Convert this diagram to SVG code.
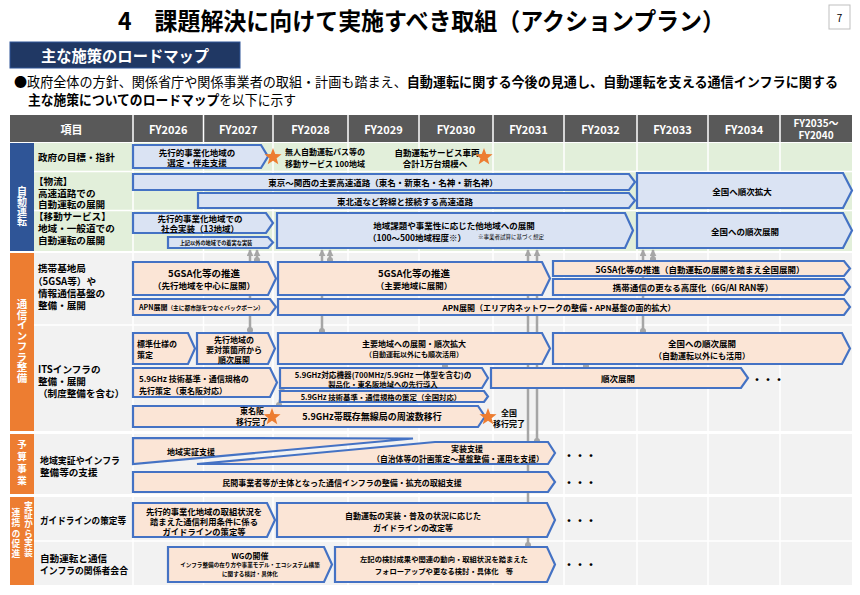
<svg xmlns="http://www.w3.org/2000/svg" width="860" height="595" viewBox="0 0 860 595">
<style>
text{font-family:"Noto Sans CJK JP","Noto Sans",sans-serif;fill:#000}
.b{font-weight:bold}
.ab{fill:#dae3f3;stroke:#4472c4;stroke-width:2.2}
.ap{fill:#fbe5d6;stroke:#4472c4;stroke-width:2.2}
.c{font-size:8.5px;font-weight:bold;text-anchor:middle;dominant-baseline:central}
.s{font-size:8px;font-weight:bold;dominant-baseline:central}
.l{font-size:9.6px;font-weight:bold;dominant-baseline:central}
.hd{fill:#fff;font-size:11px;font-weight:bold;text-anchor:middle;dominant-baseline:central}
.vt{writing-mode:vertical-rl;fill:#fff;font-weight:bold;font-size:10px;text-anchor:middle}
.cn{stroke:#a6a6a6;stroke-width:2.5;fill:none}
.sep{stroke:#fff;stroke-width:1.5}
.dots{font-size:11px;font-weight:bold;text-anchor:middle;dominant-baseline:central}
.star{fill:#ed7d31}
</style>
<defs>
<marker id="ah" viewBox="0 0 10 10" refX="9" refY="5" markerUnits="userSpaceOnUse" markerWidth="7" markerHeight="7" orient="auto-start-reverse"><path d="M0,0 L10,5 L0,10 z" fill="#a6a6a6"/></marker>
<marker id="dt" viewBox="-4 -4 8 8" refX="0" refY="0" markerUnits="userSpaceOnUse" markerWidth="7" markerHeight="7"><circle r="3.5" fill="#a6a6a6"/></marker>
<polygon id="star" points="0,-9 2.23,-3.07 8.56,-2.78 3.61,1.17 5.29,7.28 0,3.8 -5.29,7.28 -3.61,1.17 -8.56,-2.78 -2.23,-3.07"/>
</defs>

<!-- title area -->
<text x="118" y="30" font-size="24" class="b" textLength="607" lengthAdjust="spacingAndGlyphs">4　課題解決に向けて実施すべき取組（アクションプラン）</text>
<rect x="829" y="5" width="21" height="24" fill="#fff" stroke="#bfbfbf"/>
<text x="839.5" y="17" font-size="10" text-anchor="middle" dominant-baseline="central">7</text>
<rect x="10" y="42" width="230" height="26" fill="#203864" stroke="#2f5597"/>
<text x="125" y="55" font-size="16" class="b" style="fill:#fff" text-anchor="middle" dominant-baseline="central" textLength="168" lengthAdjust="spacingAndGlyphs">主な施策のロードマップ</text>
<text x="14" y="87" font-size="13.3" textLength="824" lengthAdjust="spacingAndGlyphs">●政府全体の方針、関係省庁や関係事業者の取組・計画も踏まえ、<tspan class="b">自動運転に関する今後の見通し、自動運転を支える通信インフラに関する</tspan></text>
<text x="28" y="105" font-size="13.3" textLength="268" lengthAdjust="spacingAndGlyphs"><tspan class="b">主な施策についてのロードマップ</tspan>を以下に示す</text>

<!-- table background -->
<rect x="10" y="115" width="842" height="27" fill="#595959"/>
<rect x="34" y="143" width="818" height="108" fill="#e2efda"/>
<rect x="10" y="143" width="24" height="108" fill="#2f5597"/>
<rect x="34" y="253" width="818" height="178" fill="#f2f2f2"/>
<rect x="10" y="253" width="24" height="178" fill="#ed7d31"/>
<rect x="34" y="434" width="818" height="60" fill="#f2f2f2"/>
<rect x="10" y="434" width="24" height="60" fill="#ed7d31"/>
<rect x="34" y="497" width="818" height="88" fill="#f2f2f2"/>
<rect x="10" y="497" width="24" height="88" fill="#ed7d31"/>
<g class="sep">
<line x1="133" y1="115" x2="133" y2="585"/><line x1="203.5" y1="115" x2="203.5" y2="585"/>
<line x1="273" y1="115" x2="273" y2="585"/><line x1="348" y1="115" x2="348" y2="585"/>
<line x1="419" y1="115" x2="419" y2="585"/><line x1="493" y1="115" x2="493" y2="585"/>
<line x1="564" y1="115" x2="564" y2="585"/><line x1="637" y1="115" x2="637" y2="585"/>
<line x1="708" y1="115" x2="708" y2="585"/><line x1="780" y1="115" x2="780" y2="585"/>
<line x1="34" y1="171.5" x2="852" y2="171.5"/><line x1="34" y1="210.5" x2="852" y2="210.5"/>
<line x1="34" y1="325" x2="852" y2="325"/><line x1="34" y1="541" x2="852" y2="541"/>
</g>
<text class="hd" x="71.5" y="128.5">項目</text>
<text class="hd" x="168.25" y="128.5">FY2026</text>
<text class="hd" x="238.25" y="128.5">FY2027</text>
<text class="hd" x="310.5" y="128.5">FY2028</text>
<text class="hd" x="383.5" y="128.5">FY2029</text>
<text class="hd" x="456" y="128.5">FY2030</text>
<text class="hd" x="528.5" y="128.5">FY2031</text>
<text class="hd" x="600.5" y="128.5">FY2032</text>
<text class="hd" x="672.5" y="128.5">FY2033</text>
<text class="hd" x="744" y="128.5">FY2034</text>
<text class="hd" x="816" y="122.5" style="font-size:10px">FY2035～</text>
<text class="hd" x="816" y="134.5" style="font-size:10px">FY2040</text>

<!-- category bands -->
<text class="vt" x="22" y="206">自動運転</text>
<text class="vt" x="22" y="341" style="font-size:10.5px">通信インフラ整備</text>
<text class="vt" x="22" y="464" style="font-size:9.5px;letter-spacing:2.5px">予算事業</text>
<text class="vt" x="28.5" y="529" style="font-size:8.8px;letter-spacing:0.6px">実証から実装</text>
<text class="vt" x="16" y="534" style="font-size:8.8px;letter-spacing:1.6px">連携の促進</text>

<!-- row labels -->
<text class="l" x="38" y="157">政府の目標・指針</text>
<text class="l" x="34" y="180.5">【物流】</text>
<text class="l" x="38" y="192.5">高速道路での</text>
<text class="l" x="38" y="204">自動運転の展開</text>
<text class="l" x="34" y="216">【移動サービス】</text>
<text class="l" x="38" y="228">地域・一般道での</text>
<text class="l" x="38" y="240">自動運転の展開</text>
<text class="l" x="38" y="268">携帯基地局</text>
<text class="l" x="33" y="280.5">（5GSA等）や</text>
<text class="l" x="38" y="293">情報通信基盤の</text>
<text class="l" x="38" y="305">整備・展開</text>
<text class="l" x="38" y="369">ITSインフラの</text>
<text class="l" x="38" y="381">整備・展開</text>
<text class="l" x="38" y="393">（制度整備を含む）</text>
<text class="l" x="40" y="460" textLength="80" lengthAdjust="spacingAndGlyphs">地域実証やインフラ</text>
<text class="l" x="40" y="472">整備等の支援</text>
<text class="l" x="40" y="520" textLength="86" lengthAdjust="spacingAndGlyphs">ガイドラインの策定等</text>
<text class="l" x="40" y="558">自動運転と通信</text>
<text class="l" x="40" y="570" textLength="88" lengthAdjust="spacingAndGlyphs">インフラの関係者会合</text>

<!-- connectors -->
<g id="connectors" class="cn">
<line x1="250" y1="250" x2="250" y2="330" marker-start="url(#ah)" marker-end="url(#dt)"/>
<line x1="257" y1="250" x2="257" y2="260" marker-start="url(#ah)" marker-end="url(#dt)"/>
<line x1="322" y1="250" x2="322" y2="331" marker-start="url(#ah)" marker-end="url(#dt)"/>
<line x1="330" y1="250" x2="330" y2="260" marker-start="url(#ah)" marker-end="url(#dt)"/>
<line x1="528" y1="250" x2="528" y2="545" marker-start="url(#ah)" marker-end="url(#dt)"/>
<line x1="537" y1="250" x2="537" y2="441" marker-start="url(#ah)" marker-end="url(#dt)"/>
<line x1="643" y1="250" x2="643" y2="331" marker-start="url(#ah)" marker-end="url(#dt)"/>
<line x1="653" y1="250" x2="653" y2="259" marker-start="url(#ah)" marker-end="url(#dt)"/>
<line x1="445" y1="360" x2="445" y2="366" marker-end="url(#dt)"/>
<line x1="586" y1="360" x2="586" y2="366" marker-end="url(#dt)"/>
<line x1="279" y1="405" x2="283" y2="385" marker-start="url(#dt)" marker-end="url(#ah)"/>
</g>

<!-- government goals -->
<g id="n-gov1"><polygon class="ab" points="133,145 261,145 268,156.5 261,168 133,168"/>
<text class="c" x="197" y="151.5">先行的事業化地域の</text><text class="c" x="197" y="162">選定・伴走支援</text></g>
<g id="n-gov2"><use href="#star" class="star" x="273" y="157"/>
<text class="s" x="285" y="151.5">無人自動運転バス等の</text><text class="s" x="285" y="163">移動サービス 100地域</text></g>
<g id="n-gov3"><text class="c" x="437" y="151.5">自動運転サービス車両</text><text class="c" x="435" y="163">合計1万台規模へ</text>
<use href="#star" class="star" x="484" y="157"/></g>

<!-- logistics -->
<g id="n-log1"><polygon class="ab" points="133,174 629,174 635,182 629,190 133,190"/>
<text class="c" x="383" y="182">東京～関西の主要高速道路（東名・新東名・名神・新名神）</text></g>
<g id="n-log2"><polygon class="ab" points="198,193 629,193 635,200.5 629,208 198,208"/>
<text class="c" x="405" y="200.5">東北道など幹線と接続する高速道路</text></g>
<g id="n-log3"><polygon class="ab" points="637,173 843,173 852,190.5 843,208 637,208"/>
<text class="c" x="742" y="190.5">全国へ順次拡大</text></g>

<!-- mobility services -->
<g id="n-mob1"><polygon class="ab" points="133,213 266,213 273,223 266,233 133,233"/>
<text class="c" x="200" y="218">先行的事業化地域での</text><text class="c" x="200" y="228">社会実装（13地域）</text></g>
<g id="n-mob2"><polygon class="ab" points="168,237 268,237 273,242.5 268,248 168,248"/>
<text class="c" x="216" y="242.5" style="font-size:5.2px">上記以外の地域での着実な実装</text></g>
<g id="n-mob3"><polygon class="ab" points="277,213 625,213 633,230.5 625,248 277,248"/>
<text class="c" x="454" y="225">地域課題や事業性に応じた他地域への展開</text>
<text class="c" x="417" y="237">（100～500地域程度※）</text>
<text x="478" y="237" font-size="5.5" dominant-baseline="central">※事業者試算に基づく想定</text></g>
<g id="n-mob4"><polygon class="ab" points="637,213 843,213 852,230.5 843,248 637,248"/>
<text class="c" x="745" y="230.5">全国への順次展開</text></g>

<!-- mobile base stations -->
<g id="n-mbs1"><polygon class="ap" points="133,262 268,262 276,278.5 268,295 133,295"/>
<text class="c" x="204" y="272.5" style="font-size:9.5px">5GSA化等の推進</text><text class="c" x="204" y="285">（先行地域を中心に展開）</text></g>
<g id="n-mbs2"><polygon class="ap" points="278,262 542,262 550,278.5 542,295 278,295"/>
<text class="c" x="414" y="272.5" style="font-size:9.5px">5GSA化等の推進</text><text class="c" x="414" y="285">（主要地域に展開）</text></g>
<g id="n-mbs3"><polygon class="ap" points="553,261 844,261 850,268.5 844,276 553,276"/>
<text class="c" x="700" y="268.5">5GSA化等の推進（自動運転の展開を踏まえ全国展開）</text></g>
<g id="n-mbs4"><polygon class="ap" points="553,279 844,279 850,287 844,295 553,295"/>
<text class="c" x="693" y="287">携帯通信の更なる高度化（6G/AI RAN等）</text></g>
<g id="n-apn1"><polygon class="ap" points="133,299 270,299 276,307 270,315 133,315"/>
<text x="139" y="307" font-size="7" class="b" dominant-baseline="central">APN展開<tspan font-size="5.7">（主に都市部をつなぐバックボーン）</tspan></text></g>
<g id="n-apn2"><polygon class="ap" points="278,299 844,299 850,307 844,315 278,315"/>
<text class="c" x="559" y="307" style="font-size:8px">APN展開（エリア内ネットワークの整備・APN基盤の面的拡大）</text></g>

<!-- ITS -->
<g id="n-its1"><polygon class="ap" points="133,333 188,333 195,348.5 188,364 133,364"/>
<text class="s" x="137" y="343">標準仕様の</text><text class="s" x="137" y="354">策定</text></g>
<g id="n-its2"><polygon class="ap" points="197,333 268,333 275,348.5 268,364 197,364"/>
<text class="c" x="234" y="339" style="font-size:8px">先行地域の</text><text class="c" x="234" y="349" style="font-size:8px">要対策箇所から</text><text class="c" x="234" y="359" style="font-size:8px">順次展開</text></g>
<g id="n-its3"><polygon class="ap" points="278,333 542,333 550,348.5 542,364 278,364"/>
<text class="c" x="414" y="343" style="font-size:8px">主要地域への展開・順次拡大</text><text class="c" x="414" y="354" style="font-size:7px">（自動運転以外にも順次活用）</text></g>
<g id="n-its4"><polygon class="ap" points="553,333 842,333 850,348.5 842,364 553,364"/>
<text class="c" x="702" y="343">全国への順次展開</text><text class="c" x="702" y="355" style="font-size:8px">（自動運転以外にも活用）</text></g>
<g id="n-its5"><polygon class="ap" points="133,368 270,368 277,382.5 270,397 133,397"/>
<text class="s" x="139" y="378">5.9GHz 技術基準・通信規格の</text><text class="s" x="139" y="390">先行策定（東名阪対応）</text></g>
<g id="n-its6"><polygon class="ap" points="280,368 482,368 488,378 482,388 280,388"/>
<text class="c" x="383" y="374" style="font-size:7.6px">5.9GHz対応機器(700MHz/5.9GHz 一体型を含む)の</text>
<text class="c" x="383" y="383.5" style="font-size:7.3px">製品化・東名阪地域への先行導入</text></g>
<g id="n-its7"><polygon class="ap" points="280,391 484,391 488,396.5 484,402 280,402"/>
<text class="c" x="381" y="396.5" style="font-size:7.4px">5.9GHz 技術基準・通信規格の策定（全国対応）</text></g>
<g id="n-its8"><polygon class="ap" points="491,368 741,368 748,378 741,388 491,388"/>
<text class="c" x="618" y="378">順次展開</text></g>
<text class="dots" x="768" y="379">・・・</text>
<g id="n-its9"><polygon class="ap" points="133,406 478,406 485,416.5 478,427 133,427"/>
<text class="c" x="372" y="416.5" style="font-size:9px">5.9GHz帯既存無線局の周波数移行</text></g>
<g id="n-ms1"><text class="c" x="252" y="410" style="font-size:8px">東名阪</text><text class="c" x="252" y="421" style="font-size:8px">移行完了</text>
<use href="#star" class="star" x="272" y="417"/></g>
<g id="n-ms2"><use href="#star" class="star" x="488" y="417"/>
<text class="c" x="509" y="412" style="font-size:8px">全国</text><text class="c" x="509" y="423" style="font-size:8px">移行完了</text></g>

<!-- budget -->
<g id="n-bud1"><polygon class="ap" points="133,438 413,438.5 133,464"/>
<text class="s" x="167" y="451">地域実証支援</text></g>
<g id="n-bud2"><polygon class="ap" points="197,464 435,442 548,442 555,453 548,464"/>
<text class="c" x="467" y="448" style="font-size:8px">実装支援</text>
<text class="c" x="458" y="458.5" style="font-size:7.8px">（自治体等の計画策定～基盤整備・運用を支援）</text></g>
<g id="n-bud3"><polygon class="ap" points="133,472 548,472 555,482 548,492 133,492"/>
<text class="c" x="342" y="482" style="font-size:8px">民間事業者等が主体となった通信インフラの整備・拡充の取組支援</text></g>
<text class="dots" x="580" y="455">・・・</text>
<text class="dots" x="580" y="482">・・・</text>

<!-- guideline -->
<g id="n-gl1"><polygon class="ap" points="133,503 267,503 275,520 267,537 133,537"/>
<text class="c" x="204" y="511" style="font-size:8.3px">先行的事業化地域の取組状況を</text>
<text class="c" x="204" y="521" style="font-size:8.3px">踏まえた通信利用条件に係る</text>
<text class="c" x="204" y="531" style="font-size:8.3px">ガイドラインの策定等</text></g>
<g id="n-gl2"><polygon class="ap" points="277,503 547,503 555,520 547,537 277,537"/>
<text class="c" x="413" y="515" style="font-size:8px">自動運転の実装・普及の状況に応じた</text>
<text class="c" x="413" y="527" style="font-size:8px">ガイドラインの改定等</text></g>
<text class="dots" x="580" y="520">・・・</text>

<!-- meeting -->
<g id="n-mt1"><polygon class="ap" points="168,547 324,547 332,564.5 324,582 168,582"/>
<text class="c" x="250" y="555" style="font-size:8px">WGの開催</text>
<text class="c" x="250" y="565" style="font-size:5.6px">インフラ整備の在り方や事業モデル・エコシステム構築</text>
<text class="c" x="250" y="574" style="font-size:5.6px">に関する検討・具体化</text></g>
<g id="n-mt2"><polygon class="ap" points="335,547 547,547 555,564.5 547,582 335,582"/>
<text class="c" x="444" y="559" style="font-size:7.3px">左記の検討成果や関連の動向・取組状況を踏まえた</text>
<text class="c" x="444" y="571" style="font-size:7.3px">フォローアップや更なる検討・具体化　等</text></g>
<text class="dots" x="580" y="564">・・・</text>
</svg>
